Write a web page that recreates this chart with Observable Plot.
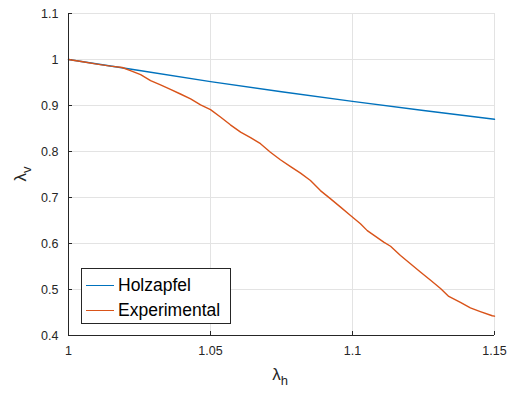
<!DOCTYPE html>
<html><head><meta charset="utf-8">
<script src="https://cdn.jsdelivr.net/npm/d3@7"></script>
<script src="https://cdn.jsdelivr.net/npm/@observablehq/plot@0.6"></script>
<style>
body{margin:0;background:#fff;}
#wrap{position:relative;width:510px;height:398px;}
#legend{position:absolute;left:81px;top:268px;width:150px;height:56px;border:1px solid #262626;background:#fff;box-sizing:border-box;font-family:"Liberation Sans",Arial,sans-serif;font-size:17.5px;color:#000;}
#legend .row{position:absolute;left:4px;height:20px;display:flex;align-items:center;}
#legend .sw{width:28px;height:0;border-top:1.3px solid;margin-right:4px;}
</style>
</head><body>
<div id="wrap"></div>
<script>
const xTicks = [1, 1.05, 1.1, 1.15];
const xTickLabels = ["1", "1.05", "1.1", "1.15"];
const yTicks = [0.4, 0.5, 0.6, 0.7, 0.8, 0.9, 1, 1.1];
const yTickLabels = ["0.4", "0.5", "0.6", "0.7", "0.8", "0.9", "1", "1.1"];
const seriesNames = ["Holzapfel", "Experimental"];
const seriesColors = ["#0072BD", "#D95319"];

const holzH = [1.000, 1.025, 1.050, 1.075, 1.100, 1.125, 1.150];
const holzV = [1.000, 0.976, 0.952, 0.930, 0.909, 0.889, 0.870];

const expH = [1.000, 1.005, 1.010, 1.0148, 1.0189, 1.0218, 1.0254, 1.0289, 1.0324, 1.0359, 1.0394, 1.043, 1.0465, 1.050, 1.0535, 1.057, 1.0606, 1.0641, 1.0676, 1.0711, 1.0746, 1.0782, 1.0817, 1.0852, 1.0887, 1.0923, 1.0958, 1.0993, 1.1028, 1.1052, 1.111, 1.1134, 1.1169, 1.1204, 1.1239, 1.1275, 1.131, 1.1339, 1.138, 1.1415, 1.145, 1.1492, 1.150];
const expV = [1.000, 0.995, 0.990, 0.9855, 0.9826, 0.976, 0.967, 0.954, 0.945, 0.935, 0.925, 0.9145, 0.9015, 0.891, 0.875, 0.858, 0.842, 0.830, 0.817, 0.7985, 0.782, 0.767, 0.753, 0.737, 0.715, 0.697, 0.679, 0.661, 0.643, 0.628, 0.603, 0.594, 0.574, 0.556, 0.538, 0.520, 0.502, 0.485, 0.472, 0.460, 0.452, 0.443, 0.442];

const holz = holzH.map((h, i) => ({h, v: holzV[i]}));
const expData = expH.map((h, i) => ({h, v: expV[i]}));

const W = 510, H = 398, mL = 68, mR = 16, mT = 13, mB = 63;
const axisColor = "#262626";
const gridColor = "#e3e3e3";

const plot = Plot.plot({
  width: W, height: H,
  marginLeft: mL, marginRight: mR, marginTop: mT, marginBottom: mB,
  style: {fontFamily: "Liberation Sans, Arial, sans-serif", fontSize: "12.5px", color: axisColor, background: "#fff", overflow: "visible"},
  x: {domain: [1, 1.15]},
  y: {domain: [0.4, 1.1]},
  marks: [
    Plot.gridX(xTicks, {stroke: gridColor, strokeOpacity: 1}),
    Plot.gridY(yTicks, {stroke: gridColor, strokeOpacity: 1}),
    Plot.axisX(xTicks, {tickSize: 0, tickPadding: 11, tickFormat: d => xTickLabels[xTicks.indexOf(d)], label: null, fill: axisColor}),
    Plot.axisY(yTicks, {tickSize: 0, tickPadding: 10, tickFormat: d => yTickLabels[yTicks.indexOf(d)], label: null, fill: axisColor}),
    Plot.ruleX(xTicks, {x: d => d, stroke: axisColor, insetTop: (H - mT - mB) - 4}),
    Plot.ruleY(yTicks, {y: d => d, stroke: axisColor, insetRight: (W - mL - mR) - 4}),
    Plot.line(holz, {x: "h", y: "v", stroke: seriesColors[0], strokeWidth: 1.4}),
    Plot.line(expData, {x: "h", y: "v", stroke: seriesColors[1], strokeWidth: 1.4}),
    Plot.ruleX([1], {stroke: axisColor}),
    Plot.ruleY([0.4], {stroke: axisColor})
  ]
});

const svg = d3.select(plot);
const xl = svg.append("text")
  .attr("x", 280).attr("y", 380)
  .attr("text-anchor", "middle")
  .attr("font-family", "Liberation Sans, Arial, sans-serif")
  .attr("font-size", 17).attr("fill", axisColor);
xl.append("tspan").text("λ");
xl.append("tspan").attr("font-size", 13).attr("dy", 5).text("h");

const yl = svg.append("text")
  .attr("transform", "translate(26,174) rotate(-90)")
  .attr("text-anchor", "middle")
  .attr("font-family", "Liberation Sans, Arial, sans-serif")
  .attr("font-size", 17).attr("fill", axisColor);
yl.append("tspan").text("λ");
yl.append("tspan").attr("font-size", 13).attr("dy", 5).text("v");

const wrap = document.getElementById("wrap");
wrap.appendChild(plot);

const legend = document.createElement("div");
legend.id = "legend";
seriesNames.forEach((name, i) => {
  const row = document.createElement("div");
  row.className = "row";
  row.style.top = (6 + i * 25) + "px";
  const sw = document.createElement("div");
  sw.className = "sw";
  sw.style.borderTopColor = seriesColors[i];
  const t = document.createElement("span");
  t.textContent = name;
  row.appendChild(sw); row.appendChild(t);
  legend.appendChild(row);
});
wrap.appendChild(legend);
</script>
</body></html>
